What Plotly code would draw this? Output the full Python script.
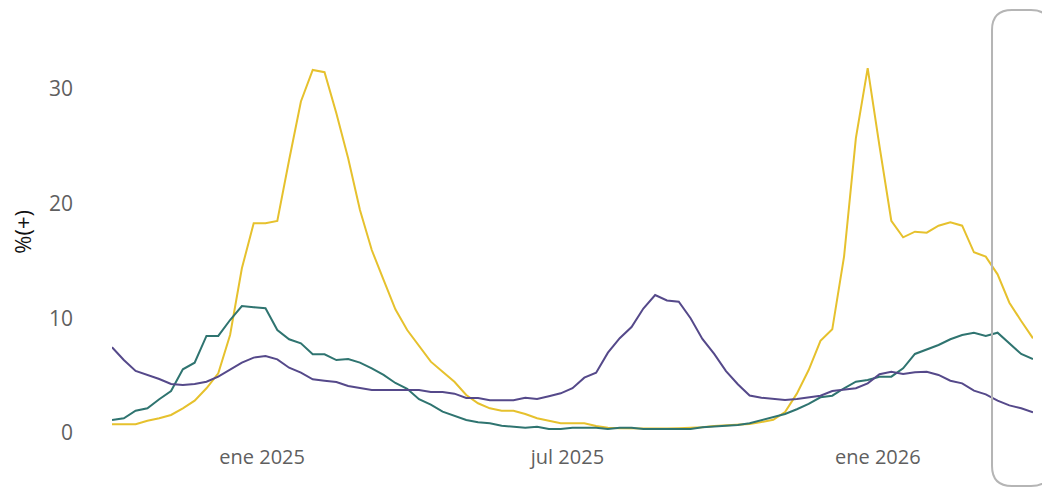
import pandas as pd
import plotly.graph_objects as go

# weekly positivity (%), one point per week
weeks = pd.date_range("2024-10-04", periods=79, freq="7D")

influenza = [
    0.76, 0.76, 0.76, 1.07, 1.28, 1.57, 2.15, 2.82, 3.9, 5.2,
    8.54, 14.36, 18.28, 18.28, 18.48, 23.8, 28.9, 31.65, 31.45, 27.87,
    23.95, 19.44, 15.95, 13.34, 10.78, 8.98, 7.61, 6.22, 5.34, 4.47,
    3.31, 2.59, 2.15, 1.94, 1.94, 1.66, 1.28, 1.07, 0.85, 0.85,
    0.85, 0.61, 0.46, 0.42, 0.4, 0.38, 0.38, 0.4, 0.42, 0.45,
    0.5, 0.6, 0.65, 0.7, 0.78, 0.95, 1.15, 1.83, 3.43, 5.49,
    8.03, 9.04, 15.4, 25.7, 31.8, 25.0, 18.5, 17.06, 17.55, 17.46,
    18.07, 18.37, 18.07, 15.75, 15.37, 13.83, 11.36, 9.76, 8.25,
]

vrs = [
    1.13, 1.28, 1.94, 2.15, 2.94, 3.66, 5.55, 6.13, 8.46, 8.46,
    9.85, 11.07, 10.97, 10.87, 8.98, 8.17, 7.82, 6.86, 6.86, 6.36,
    6.45, 6.13, 5.64, 5.06, 4.36, 3.85, 2.95, 2.47, 1.86, 1.51,
    1.13, 0.93, 0.85, 0.64, 0.55, 0.46, 0.55, 0.35, 0.35, 0.46,
    0.46, 0.46, 0.35, 0.46, 0.46, 0.35, 0.35, 0.35, 0.35, 0.35,
    0.5, 0.55, 0.61, 0.7, 0.85, 1.13, 1.37, 1.66, 2.07, 2.53,
    3.11, 3.25, 3.9, 4.47, 4.62, 4.91, 4.91, 5.64, 6.89, 7.3,
    7.67, 8.17, 8.54, 8.74, 8.46, 8.74, 7.82, 6.89, 6.45,
]

sars = [
    7.47, 6.36, 5.41, 5.06, 4.71, 4.27, 4.18, 4.27, 4.47, 4.91,
    5.55, 6.13, 6.57, 6.71, 6.42, 5.69, 5.26, 4.68, 4.56, 4.45,
    4.1, 3.9, 3.75, 3.75, 3.75, 3.81, 3.75, 3.57, 3.57, 3.43,
    3.05, 3.05, 2.85, 2.85, 2.85, 3.08, 2.96, 3.2, 3.46, 3.9,
    4.82, 5.26, 7.0, 8.26, 9.24, 10.85, 12.03, 11.55, 11.45, 10.0,
    8.2, 6.9, 5.4, 4.25, 3.27, 3.08, 2.96, 2.88, 2.96, 3.08,
    3.25, 3.66, 3.75, 3.9, 4.33, 5.12, 5.34, 5.14, 5.29, 5.34,
    5.06, 4.56, 4.33, 3.69, 3.37, 2.82, 2.41, 2.15, 1.8,
]

tick_dates = ["2025-01-01", "2025-07-01", "2026-01-01"]
tick_text = ["ene 2025", "jul 2025", "ene 2026"]

fig = go.Figure()
for name, vals, color in [
    ("Influenza", influenza, "#E6C12D"),
    ("VRS", vrs, "#2F7470"),
    ("SARS-CoV-2", sars, "#55498A"),
]:
    fig.add_trace(go.Scatter(x=weeks, y=vals, mode="lines", name=name,
                             line=dict(color=color, width=2)))

# rounded highlight box over the latest weeks (paper coords)
x0, x1, y0, y1 = 0.9555, 1.0195, -0.1017, 1.0236
rx, ry = 0.0217, 0.0473
path = (f"M {x0+rx},{y1} L {x1-rx},{y1} Q {x1},{y1} {x1},{y1-ry} "
        f"L {x1},{y0+ry} Q {x1},{y0} {x1-rx},{y0} L {x0+rx},{y0} "
        f"Q {x0},{y0} {x0},{y0+ry} L {x0},{y1-ry} Q {x0},{y1} {x0+rx},{y1} Z")
fig.add_shape(type="path", path=path, xref="paper", yref="paper",
              line=dict(color="#B5B5B5", width=2), layer="above")

# y-axis title as an annotation so it can sit near the figure's left edge
fig.add_annotation(text="%(+)", textangle=-90, xref="paper", yref="paper",
                   x=-0.0985, y=0.5, xanchor="center", yanchor="middle",
                   showarrow=False, font=dict(size=22, color="#111111"))

fig.update_layout(
    width=1050, height=487,
    margin=dict(l=104, r=25, t=12, b=52),
    plot_bgcolor="white", paper_bgcolor="white",
    showlegend=False,
    font=dict(family="Open Sans", color="#5f5f5f"),
)
fig.update_xaxes(
    tickvals=tick_dates, ticktext=tick_text,
    showgrid=False, zeroline=False, showline=False,
    automargin=False,
    tickfont=dict(size=20, color="#5f5f5f"),
)
fig.update_yaxes(
    range=[-0.872, 36.0],
    tickvals=[0, 10, 20, 30],
    showgrid=False, zeroline=False, showline=False,
    automargin=False,
    ticklabelstandoff=38,
    tickfont=dict(size=21, color="#5f5f5f"),
)

fig.write_html("out.html")
